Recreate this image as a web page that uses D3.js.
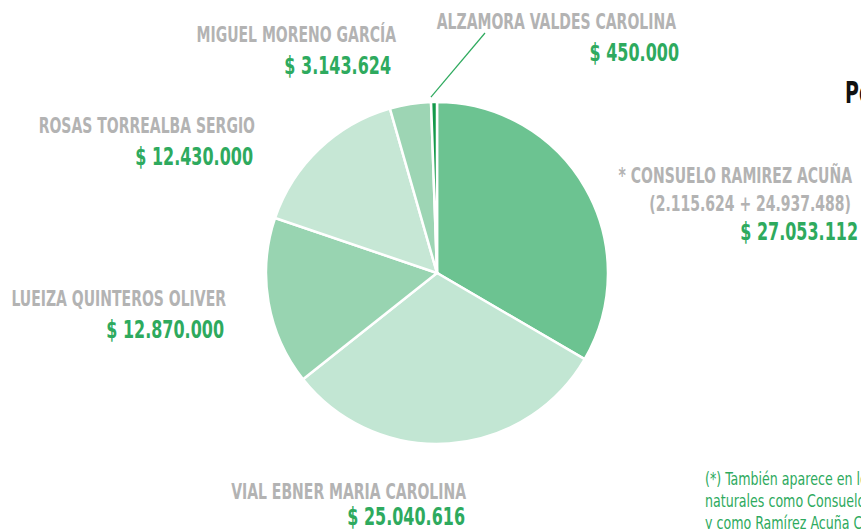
<!DOCTYPE html>
<html>
<head>
<meta charset="utf-8">
<script src="https://cdn.jsdelivr.net/npm/d3@7"></script>
<style>
  body { margin: 0; background: #fff; overflow: hidden; }
  text { font-family: "DejaVu Sans Condensed", "DejaVu Sans", sans-serif; }
</style>
</head>
<body>
<div id="chart"></div>
<script>
// Data
var names = ["* CONSUELO RAMIREZ ACUÑA", "VIAL EBNER MARIA CAROLINA", "LUEIZA QUINTEROS OLIVER",
             "ROSAS TORREALBA SERGIO", "MIGUEL MORENO GARCÍA", "ALZAMORA VALDES CAROLINA"];
var amounts = [27053112, 25040616, 12870000, 12430000, 3143624, 450000];
var amountLabels = ["$ 27.053.112", "$ 25.040.616", "$ 12.870.000", "$ 12.430.000", "$ 3.143.624", "$ 450.000"];
var subLabels = ["(2.115.624 + 24.937.488)", "", "", "", "", ""];
var sliceColors = ["#6cc391", "#c2e6d3", "#98d4b1", "#c6e7d5", "#9dd5b4", "#13994a"];
var noteLines = ["(*) También aparece en los registros como personas",
                 "naturales como Consuelo Ramírez Acuña",
                 "y como Ramírez Acuña Consuelo"];

var width = 861, height = 529;
var cx = 437, cy = 273, radius = 171;
var squeeze = 0.76; // no condensed font installed, so narrow the text by hand

var svg = d3.select("#chart").append("svg")
    .attr("width", width)
    .attr("height", height);

var pie = d3.pie().sort(null).value(function (d) { return d; });
var arc = d3.arc().innerRadius(0).outerRadius(radius);
var slices = pie(amounts);

var g = svg.append("g").attr("transform", "translate(" + cx + "," + cy + ")");

g.selectAll("path")
    .data(slices)
    .enter()
    .append("path")
    .attr("d", arc)
    .attr("fill", function (d, i) { return sliceColors[i]; })
    .attr("stroke", "#fff")
    .attr("stroke-width", 2.5);

// label anchors (right end of text, baseline of name)
var labelPos = [
    { x: 852, y: 183 },
    { x: 466, y: 499 },
    { x: 226, y: 306 },
    { x: 255, y: 133 },
    { x: 396, y: 42 },
    { x: 676, y: 29 }
];

var labels = svg.selectAll(".lbl")
    .data(slices)
    .enter()
    .append("g")
    .attr("class", "lbl")
    .attr("transform", function (d, i) { return "translate(" + labelPos[i].x + "," + labelPos[i].y + ")"; });

labels.append("g")
    .attr("transform", "scale(" + squeeze + ",1)")
    .append("text")
    .attr("text-anchor", "end")
    .attr("font-size", 20.5)
    .attr("font-weight", "bold")
    .attr("fill", "#b3b3b3")
    .text(function (d, i) { return names[i]; });

labels.append("g")
    .attr("transform", "translate(-1,28) scale(" + squeeze + ",1)")
    .append("text")
    .attr("text-anchor", "end")
    .attr("font-size", 20.5)
    .attr("font-weight", "bold")
    .attr("fill", "#b3b3b3")
    .text(function (d, i) { return subLabels[i]; });

labels.append("g")
    .attr("transform", function (d, i) {
        var dx = [6, -1, -2, -2, -5, 3][i];
        var dy = i === 0 ? 57 : (i === 1 ? 26 : 32);
        return "translate(" + dx + "," + dy + ") scale(" + (squeeze - 0.02) + ",1)";
    })
    .append("text")
    .attr("text-anchor", "end")
    .attr("font-size", 24)
    .attr("font-weight", "bold")
    .attr("fill", "#2eaa5e")
    .text(function (d, i) { return amountLabels[i]; });

// leader line for the thin slice
var tiny = slices[5];
var mid = (tiny.startAngle + tiny.endAngle) / 2;
svg.append("line")
    .attr("x1", cx + Math.sin(mid) * (radius + 5) - 3)
    .attr("y1", cy - Math.cos(mid) * (radius + 5))
    .attr("x2", 485)
    .attr("y2", 33)
    .attr("stroke", "#2eaa5e")
    .attr("stroke-width", 1.2);

// title, cut off at the edge
svg.append("g")
    .attr("transform", "translate(845,103) scale(0.68,1)")
    .append("text")
    .attr("font-size", 31)
    .attr("font-weight", "bold")
    .attr("fill", "#111")
    .text("Por monto");

// footnote
svg.append("g")
    .attr("transform", "translate(705,0) scale(0.78,1)")
    .selectAll("text")
    .data(noteLines)
    .enter()
    .append("text")
    .attr("x", 0)
    .attr("y", function (d, i) { return 485 + i * 22; })
    .attr("font-size", 18)
    .attr("fill", "#2eaa5e")
    .text(function (d) { return d; });
</script>
</body>
</html>
